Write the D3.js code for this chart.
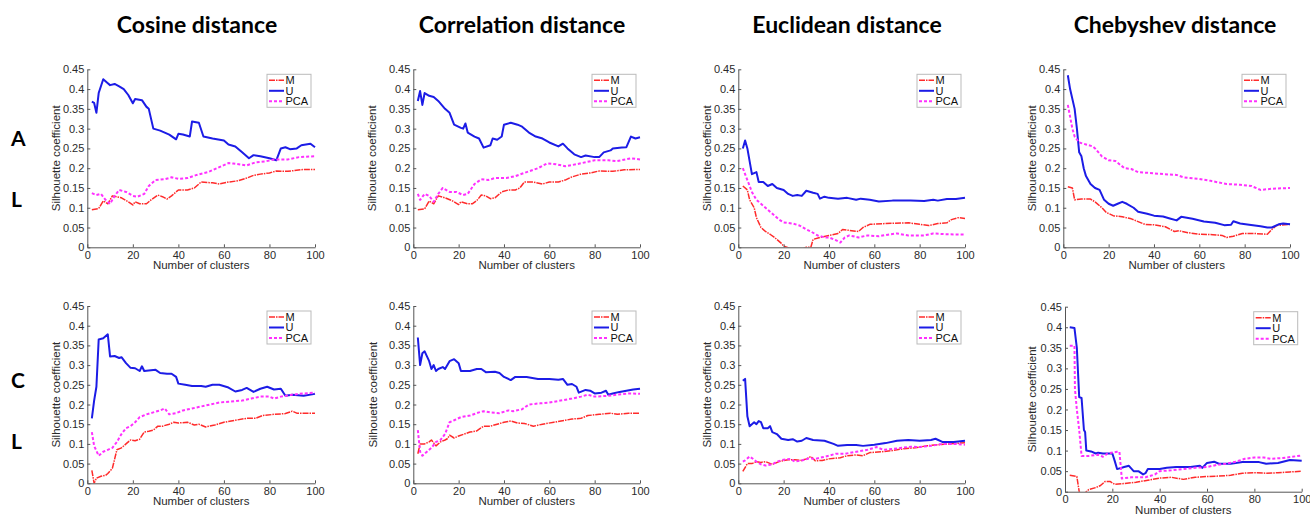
<!DOCTYPE html>
<html>
<head>
<meta charset="utf-8">
<script src="https://cdn.jsdelivr.net/npm/d3@7"></script>
<style>
  body { margin: 0; background: #fff; }
</style>
</head>
<body>
<svg id="fig" width="1310" height="516"></svg>
<script>
// titles, labels, ticks
const columnTitles = ["Cosine distance", "Correlation distance", "Euclidean distance", "Chebyshev distance"];
const rowLabels = [["A", "L"], ["C", "L"]];
const seriesNames = ["M", "U", "PCA"];
const xTicks = [0, 20, 40, 60, 80, 100];
const yTicks = [0, 0.05, 0.1, 0.15, 0.2, 0.25, 0.3, 0.35, 0.4, 0.45];
const xLabel = "Number of clusters";
const yLabel = "Silhouette coefficient";

// [number of clusters, silhouette]
const cosA_M = [[2,0.095],[5,0.098],[7,0.117],[9,0.11],[11,0.13],[15,0.125],[18,0.115],[20,0.107],[21,0.115],[23,0.11],[26,0.11],[28,0.12],[31,0.132],[33,0.128],[35,0.122],[37,0.13],[40,0.145],[44,0.145],[47,0.15],[50,0.165],[55,0.163],[58,0.16],[62,0.165],[66,0.168],[70,0.175],[73,0.182],[76,0.185],[80,0.188],[83,0.193],[88,0.192],[95,0.197],[100,0.197]];
const cosA_U = [[2,0.368],[3,0.365],[4,0.34],[5,0.39],[7,0.425],[9,0.415],[10,0.41],[12,0.413],[14,0.407],[16,0.4],[18,0.385],[20,0.364],[21,0.375],[24,0.372],[26,0.355],[27,0.35],[29,0.3],[32,0.295],[36,0.285],[39,0.273],[40,0.287],[42,0.285],[45,0.28],[46,0.318],[49,0.315],[51,0.28],[55,0.275],[60,0.27],[62,0.26],[65,0.255],[68,0.24],[71,0.225],[73,0.233],[76,0.23],[80,0.225],[83,0.22],[85,0.25],[87,0.253],[89,0.248],[92,0.25],[94,0.258],[98,0.262],[100,0.253]];
const cosA_P = [[2,0.137],[4,0.132],[6,0.135],[8,0.12],[10,0.11],[12,0.13],[14,0.145],[17,0.14],[20,0.13],[22,0.128],[25,0.135],[27,0.155],[30,0.17],[34,0.172],[37,0.177],[40,0.173],[44,0.175],[48,0.183],[53,0.19],[57,0.2],[62,0.213],[64,0.212],[70,0.207],[74,0.215],[78,0.217],[82,0.222],[88,0.222],[93,0.228],[100,0.23]];

const corA_M = [[2,0.095],[5,0.097],[7,0.117],[9,0.11],[11,0.13],[14,0.125],[17,0.118],[20,0.108],[21,0.115],[24,0.11],[26,0.11],[28,0.118],[30,0.132],[32,0.13],[34,0.123],[36,0.125],[39,0.14],[42,0.145],[45,0.145],[47,0.15],[49,0.165],[53,0.165],[57,0.16],[60,0.165],[64,0.165],[67,0.17],[70,0.178],[74,0.185],[78,0.188],[82,0.193],[88,0.192],[93,0.196],[100,0.197]];
const corA_U = [[2,0.37],[3,0.395],[4,0.36],[5,0.39],[7,0.383],[9,0.38],[11,0.37],[14,0.35],[16,0.34],[18,0.31],[21,0.302],[22,0.3],[23,0.313],[24,0.29],[27,0.28],[29,0.275],[31,0.252],[34,0.258],[35,0.275],[37,0.272],[39,0.28],[40,0.31],[43,0.315],[46,0.31],[48,0.305],[51,0.29],[54,0.28],[57,0.275],[60,0.265],[64,0.255],[66,0.262],[68,0.25],[71,0.235],[74,0.228],[76,0.232],[80,0.228],[82,0.228],[84,0.24],[87,0.245],[88,0.25],[92,0.252],[94,0.253],[96,0.28],[98,0.275],[100,0.278]];
const corA_P = [[2,0.135],[3,0.12],[5,0.135],[7,0.13],[9,0.115],[11,0.135],[13,0.15],[16,0.14],[19,0.14],[22,0.132],[24,0.135],[27,0.16],[30,0.172],[33,0.17],[36,0.175],[41,0.175],[45,0.18],[50,0.19],[55,0.2],[59,0.212],[63,0.21],[67,0.205],[72,0.21],[76,0.215],[80,0.22],[86,0.22],[90,0.218],[96,0.225],[100,0.222]];

const eucA_M = [[2,0.155],[4,0.145],[5,0.12],[7,0.1],[8,0.075],[10,0.05],[12,0.04],[14,0.033],[16,0.025],[19,0.01],[20,0.003],[22,-0.001],[25,-0.01],[28,-0.005],[30,0],[32,0],[33,0.02],[36,0.025],[40,0.03],[44,0.035],[46,0.045],[50,0.042],[53,0.04],[55,0.05],[58,0.058],[65,0.06],[75,0.062],[80,0.058],[84,0.055],[88,0.06],[92,0.062],[94,0.07],[97,0.075],[100,0.073]];
const eucA_U = [[2,0.25],[3,0.27],[4,0.25],[6,0.185],[8,0.19],[9,0.165],[11,0.165],[13,0.155],[15,0.16],[17,0.15],[20,0.145],[22,0.135],[24,0.13],[26,0.132],[28,0.13],[30,0.143],[33,0.138],[35,0.135],[36,0.123],[38,0.128],[40,0.125],[44,0.123],[48,0.125],[52,0.12],[54,0.123],[58,0.12],[62,0.116],[68,0.118],[76,0.118],[82,0.117],[86,0.12],[88,0.118],[92,0.122],[96,0.122],[100,0.125]];
const eucA_P = [[2,0.2],[4,0.17],[6,0.14],[8,0.12],[10,0.11],[12,0.1],[14,0.09],[16,0.08],[18,0.07],[20,0.063],[24,0.06],[27,0.055],[30,0.045],[32,0.04],[35,0.03],[38,0.025],[40,0.025],[43,0.018],[45,0.012],[47,0.025],[49,0.03],[53,0.025],[57,0.03],[62,0.028],[66,0.032],[70,0.035],[75,0.03],[82,0.03],[86,0.035],[92,0.033],[100,0.032]];

const cheA_M = [[2,0.153],[4,0.15],[5,0.12],[8,0.122],[12,0.122],[14,0.115],[17,0.1],[19,0.088],[22,0.08],[26,0.077],[30,0.072],[33,0.065],[36,0.058],[40,0.057],[45,0.052],[49,0.04],[51,0.042],[55,0.037],[60,0.033],[66,0.032],[70,0.03],[72,0.025],[75,0.028],[79,0.035],[84,0.035],[90,0.033],[92,0.045],[94,0.055],[100,0.058]];
const cheA_U = [[2,0.435],[3,0.4],[5,0.35],[6,0.3],[7,0.24],[8,0.23],[9,0.2],[10,0.18],[12,0.16],[14,0.15],[16,0.145],[18,0.12],[20,0.11],[22,0.105],[24,0.11],[26,0.115],[28,0.11],[31,0.1],[33,0.09],[37,0.085],[40,0.08],[44,0.078],[47,0.073],[50,0.068],[52,0.077],[57,0.072],[62,0.065],[67,0.062],[71,0.056],[74,0.057],[75,0.066],[78,0.06],[82,0.057],[87,0.053],[90,0.05],[92,0.05],[95,0.058],[97,0.06],[100,0.058]];
const cheA_P = [[2,0.36],[4,0.3],[5,0.28],[7,0.265],[10,0.26],[13,0.255],[14,0.25],[17,0.23],[20,0.22],[23,0.218],[27,0.2],[30,0.198],[33,0.19],[38,0.188],[44,0.185],[50,0.183],[53,0.177],[60,0.173],[65,0.168],[72,0.16],[78,0.158],[83,0.155],[87,0.145],[92,0.148],[100,0.15]];

const cosC_M = [[2,0.033],[3,0],[4,0.013],[6,0.018],[8,0.02],[9,0.025],[11,0.038],[13,0.085],[15,0.09],[17,0.1],[19,0.11],[21,0.108],[23,0.112],[25,0.13],[27,0.132],[29,0.135],[31,0.145],[33,0.145],[36,0.15],[38,0.155],[40,0.153],[44,0.155],[47,0.148],[49,0.15],[52,0.143],[56,0.148],[60,0.155],[65,0.16],[70,0.165],[74,0.165],[77,0.172],[82,0.175],[87,0.177],[90,0.183],[92,0.178],[100,0.178]];
const cosC_U = [[2,0.165],[3,0.21],[4,0.245],[5,0.365],[7,0.368],[8,0.373],[9,0.378],[10,0.322],[12,0.323],[14,0.318],[15,0.32],[17,0.305],[19,0.293],[21,0.292],[23,0.285],[24,0.297],[25,0.285],[28,0.287],[30,0.288],[32,0.28],[35,0.278],[37,0.278],[39,0.27],[40,0.253],[43,0.25],[46,0.247],[50,0.247],[52,0.245],[55,0.25],[58,0.25],[62,0.243],[65,0.233],[68,0.237],[70,0.242],[73,0.232],[76,0.24],[79,0.245],[82,0.238],[85,0.24],[87,0.222],[90,0.225],[95,0.222],[100,0.227]];
const cosC_P = [[2,0.13],[3,0.095],[5,0.07],[7,0.08],[9,0.085],[11,0.09],[13,0.105],[15,0.125],[17,0.14],[19,0.145],[21,0.155],[23,0.168],[26,0.175],[29,0.18],[32,0.185],[34,0.19],[36,0.175],[39,0.178],[42,0.185],[46,0.19],[50,0.195],[54,0.2],[58,0.205],[62,0.207],[68,0.21],[72,0.215],[76,0.22],[80,0.22],[82,0.215],[85,0.22],[90,0.225],[95,0.228],[100,0.23]];

const corC_M = [[2,0.075],[3,0.1],[5,0.1],[7,0.105],[8,0.11],[10,0.095],[12,0.105],[14,0.11],[15,0.113],[16,0.122],[18,0.115],[20,0.12],[25,0.13],[28,0.133],[31,0.145],[34,0.145],[37,0.15],[40,0.155],[43,0.158],[46,0.153],[49,0.152],[53,0.145],[57,0.15],[62,0.155],[67,0.16],[70,0.163],[74,0.165],[77,0.172],[82,0.175],[87,0.178],[90,0.175],[95,0.178],[100,0.178]];
const corC_U = [[2,0.37],[3,0.3],[4,0.33],[5,0.335],[7,0.31],[8,0.29],[9,0.3],[10,0.285],[11,0.29],[13,0.295],[14,0.29],[16,0.31],[18,0.315],[20,0.305],[21,0.285],[25,0.285],[28,0.29],[30,0.29],[32,0.282],[36,0.283],[38,0.28],[40,0.27],[43,0.262],[45,0.27],[50,0.27],[55,0.265],[60,0.265],[64,0.263],[66,0.265],[68,0.25],[70,0.252],[72,0.245],[73,0.23],[76,0.237],[78,0.235],[80,0.228],[83,0.23],[85,0.235],[86,0.225],[88,0.228],[91,0.232],[94,0.235],[97,0.238],[100,0.24]];
const corC_P = [[2,0.135],[3,0.08],[4,0.07],[6,0.08],[8,0.09],[10,0.105],[12,0.11],[14,0.125],[16,0.155],[18,0.16],[21,0.168],[25,0.172],[29,0.18],[31,0.183],[34,0.18],[38,0.178],[42,0.185],[44,0.183],[48,0.188],[51,0.2],[56,0.203],[60,0.205],[65,0.21],[70,0.215],[74,0.22],[77,0.225],[80,0.22],[86,0.222],[90,0.225],[95,0.228],[100,0.227]];

const eucC_M = [[2,0.03],[4,0.05],[6,0.05],[8,0.055],[10,0.053],[12,0.055],[15,0.048],[18,0.055],[22,0.06],[25,0.06],[28,0.058],[30,0.062],[32,0.068],[34,0.057],[37,0.058],[40,0.062],[45,0.065],[48,0.07],[52,0.072],[55,0.07],[58,0.078],[63,0.08],[68,0.083],[73,0.088],[78,0.09],[83,0.095],[88,0.098],[93,0.1],[100,0.103]];
const eucC_U = [[2,0.26],[3,0.265],[4,0.17],[5,0.145],[6,0.15],[7,0.155],[8,0.15],[9,0.158],[10,0.155],[11,0.14],[13,0.14],[14,0.145],[15,0.13],[17,0.125],[19,0.113],[22,0.11],[24,0.112],[26,0.106],[28,0.108],[30,0.115],[33,0.11],[38,0.108],[42,0.1],[44,0.095],[48,0.097],[52,0.097],[55,0.095],[60,0.098],[65,0.102],[70,0.108],[75,0.11],[80,0.108],[85,0.11],[87,0.113],[90,0.105],[95,0.105],[100,0.108]];
const eucC_P = [[2,0.055],[3,0.058],[5,0.068],[7,0.06],[8,0.055],[10,0.048],[12,0.045],[15,0.048],[17,0.055],[20,0.06],[23,0.062],[25,0.055],[28,0.058],[31,0.063],[34,0.062],[37,0.066],[40,0.07],[43,0.075],[47,0.075],[52,0.08],[57,0.085],[61,0.092],[64,0.085],[68,0.087],[72,0.09],[76,0.093],[80,0.092],[85,0.095],[90,0.1],[95,0.1],[100,0.098]];

const cheC_M = [[2,0.04],[5,0.037],[6,0],[7,-0.01],[9,0],[10,0.005],[13,0.01],[15,0.015],[17,0.025],[19,0.025],[21,0.018],[25,0.02],[30,0.023],[35,0.028],[40,0.033],[45,0.035],[50,0.03],[55,0.035],[60,0.037],[65,0.038],[70,0.04],[75,0.045],[80,0.046],[85,0.045],[90,0.046],[95,0.048],[100,0.05]];
const cheC_U = [[2,0.4],[4,0.398],[5,0.35],[6,0.23],[7,0.228],[8,0.15],[8.5,0.145],[9,0.1],[11,0.098],[13,0.093],[14,0.095],[16,0.093],[20,0.093],[21,0.075],[22,0.055],[25,0.06],[27,0.063],[29,0.05],[31,0.05],[33,0.042],[34,0.045],[35,0.055],[40,0.055],[43,0.058],[47,0.06],[53,0.06],[57,0.063],[58,0.058],[60,0.07],[63,0.073],[65,0.068],[70,0.068],[75,0.072],[82,0.072],[85,0.068],[90,0.07],[95,0.077],[100,0.075]];
const cheC_P = [[2,0.355],[4,0.355],[4.2,0.25],[5,0.2],[6,0.15],[7,0.087],[10,0.087],[14,0.09],[16,0.085],[18,0.093],[22,0.097],[23,0.097],[24,0.032],[28,0.035],[34,0.035],[38,0.042],[40,0.05],[45,0.052],[50,0.055],[55,0.058],[60,0.06],[64,0.065],[68,0.068],[72,0.073],[76,0.08],[80,0.083],[84,0.083],[87,0.08],[92,0.082],[96,0.085],[100,0.088]];

// panel boxes (pixels)
var panels = [
  {l: 87.3, r: 315, t: 69.3, b: 247.3, yOff: 31, series: [cosA_M, cosA_U, cosA_P]},
  {l: 413.3, r: 640, t: 69.3, b: 247.3, yOff: 41, series: [corA_M, corA_U, corA_P]},
  {l: 738.3, r: 965, t: 69.3, b: 247.3, yOff: 31.6, series: [eucA_M, eucA_U, eucA_P]},
  {l: 1063.3, r: 1290, t: 69.3, b: 247.3, yOff: 31.6, series: [cheA_M, cheA_U, cheA_P]},
  {l: 87.3, r: 315, t: 306, b: 483.3, yOff: 31, series: [cosC_M, cosC_U, cosC_P]},
  {l: 413.3, r: 640, t: 306, b: 483.3, yOff: 40, series: [corC_M, corC_U, corC_P]},
  {l: 738.3, r: 965, t: 306, b: 483.3, yOff: 31.6, series: [eucC_M, eucC_U, eucC_P]},
  {l: 1065, r: 1301.7, t: 306.7, b: 491.7, yOff: 33, series: [cheC_M, cheC_U, cheC_P]}
];

var styles = [
  {color: "#ff2b2b", width: 1.5, dash: "6,1,1.5,1"},
  {color: "#1c1ce6", width: 2, dash: null},
  {color: "#ff30ff", width: 2, dash: "3,2"}
];

var svg = d3.select("#fig");

// column titles
var titleX = [197, 522, 847, 1175];
svg.selectAll(".title")
  .data(columnTitles).enter()
  .append("text")
  .attr("class", "title")
  .attr("x", function (d, i) { return titleX[i]; })
  .attr("y", 33)
  .attr("text-anchor", "middle")
  .attr("font-family", "Lato, sans-serif")
  .attr("font-weight", "bold")
  .attr("font-size", "23px")
  .attr("fill", "#000")
  .text(function (d) { return d; });

// row letters
var rowY = [[146, 207], [388, 449]];
rowLabels.forEach(function (pair, r) {
  pair.forEach(function (lab, k) {
    svg.append("text")
      .attr("x", 11)
      .attr("y", rowY[r][k])
      .attr("font-family", "Lato, sans-serif")
      .attr("font-weight", "bold")
      .attr("font-size", "21px")
      .attr("fill", "#000")
      .text(lab);
  });
});

panels.forEach(function (p, idx) {
  var x = d3.scaleLinear().domain([0, 100]).range([p.l, p.r]);
  var y = d3.scaleLinear().domain([0, 0.45]).range([p.b, p.t]);

  var g = svg.append("g");

  // clip
  g.append("clipPath")
    .attr("id", "clip" + idx)
    .append("rect")
    .attr("x", p.l)
    .attr("y", p.t - 2)
    .attr("width", p.r - p.l + 2)
    .attr("height", p.b - p.t + 2);

  var line = d3.line()
    .x(function (d) { return x(d[0]); })
    .y(function (d) { return y(d[1]); });

  g.selectAll(".series")
    .data(p.series).enter()
    .append("path")
    .attr("clip-path", "url(#clip" + idx + ")")
    .attr("d", line)
    .attr("fill", "none")
    .attr("stroke", function (d, i) { return styles[i].color; })
    .attr("stroke-width", function (d, i) { return styles[i].width; })
    .attr("stroke-dasharray", function (d, i) { return styles[i].dash; })
    .attr("stroke-linejoin", "round");

  // axes
  var xAxis = d3.axisBottom(x).tickValues(xTicks).tickSizeInner(-3).tickSizeOuter(0).tickPadding(4);
  var yAxis = d3.axisLeft(y).tickValues(yTicks).tickSizeInner(-3).tickSizeOuter(0).tickPadding(3)
    .tickFormat(d3.format("~g"));

  var gx = g.append("g").attr("transform", "translate(0," + p.b + ")").call(xAxis);
  var gy = g.append("g").attr("transform", "translate(" + p.l + ",0)").call(yAxis);

  [gx, gy].forEach(function (a) {
    a.selectAll("path, line").attr("stroke", "#555").attr("stroke-width", 1);
    a.selectAll("text")
      .attr("font-family", "Liberation Sans, Arial, sans-serif")
      .attr("font-size", "11px")
      .attr("fill", "#2a2a2a");
  });

  g.append("text")
    .attr("x", (p.l + p.r) / 2)
    .attr("y", p.b + 22)
    .attr("text-anchor", "middle")
    .attr("font-family", "Liberation Sans, Arial, sans-serif")
    .attr("font-size", "11.5px")
    .attr("fill", "#2a2a2a")
    .text(xLabel);

  g.append("text")
    .attr("transform", "translate(" + (p.l - p.yOff + 4) + "," + ((p.t + p.b) / 2) + ") rotate(-90)")
    .attr("text-anchor", "middle")
    .attr("font-family", "Liberation Sans, Arial, sans-serif")
    .attr("font-size", "11.5px")
    .attr("fill", "#2a2a2a")
    .text(yLabel);

  // legend
  var lg = g.append("g").attr("transform", "translate(" + (p.r - 48) + "," + (p.t + 5) + ")");
  lg.append("rect")
    .attr("width", 44)
    .attr("height", 33)
    .attr("fill", "#fff")
    .attr("stroke", "#bbb")
    .attr("stroke-width", 1);
  lg.selectAll(".lline")
    .data(seriesNames).enter()
    .append("line")
    .attr("x1", 2)
    .attr("x2", 17)
    .attr("y1", function (d, i) { return 6 + i * 10.5; })
    .attr("y2", function (d, i) { return 6 + i * 10.5; })
    .attr("stroke", function (d, i) { return styles[i].color; })
    .attr("stroke-width", function (d, i) { return styles[i].width; })
    .attr("stroke-dasharray", function (d, i) { return styles[i].dash; });
  lg.selectAll(".ltext")
    .data(seriesNames).enter()
    .append("text")
    .attr("x", 18.5)
    .attr("y", function (d, i) { return 6 + i * 10.5; })
    .attr("dy", "0.36em")
    .attr("font-family", "Liberation Sans, Arial, sans-serif")
    .attr("font-size", "11px")
    .attr("fill", "#111")
    .text(function (d) { return d; });
});
</script>
</body>
</html>
